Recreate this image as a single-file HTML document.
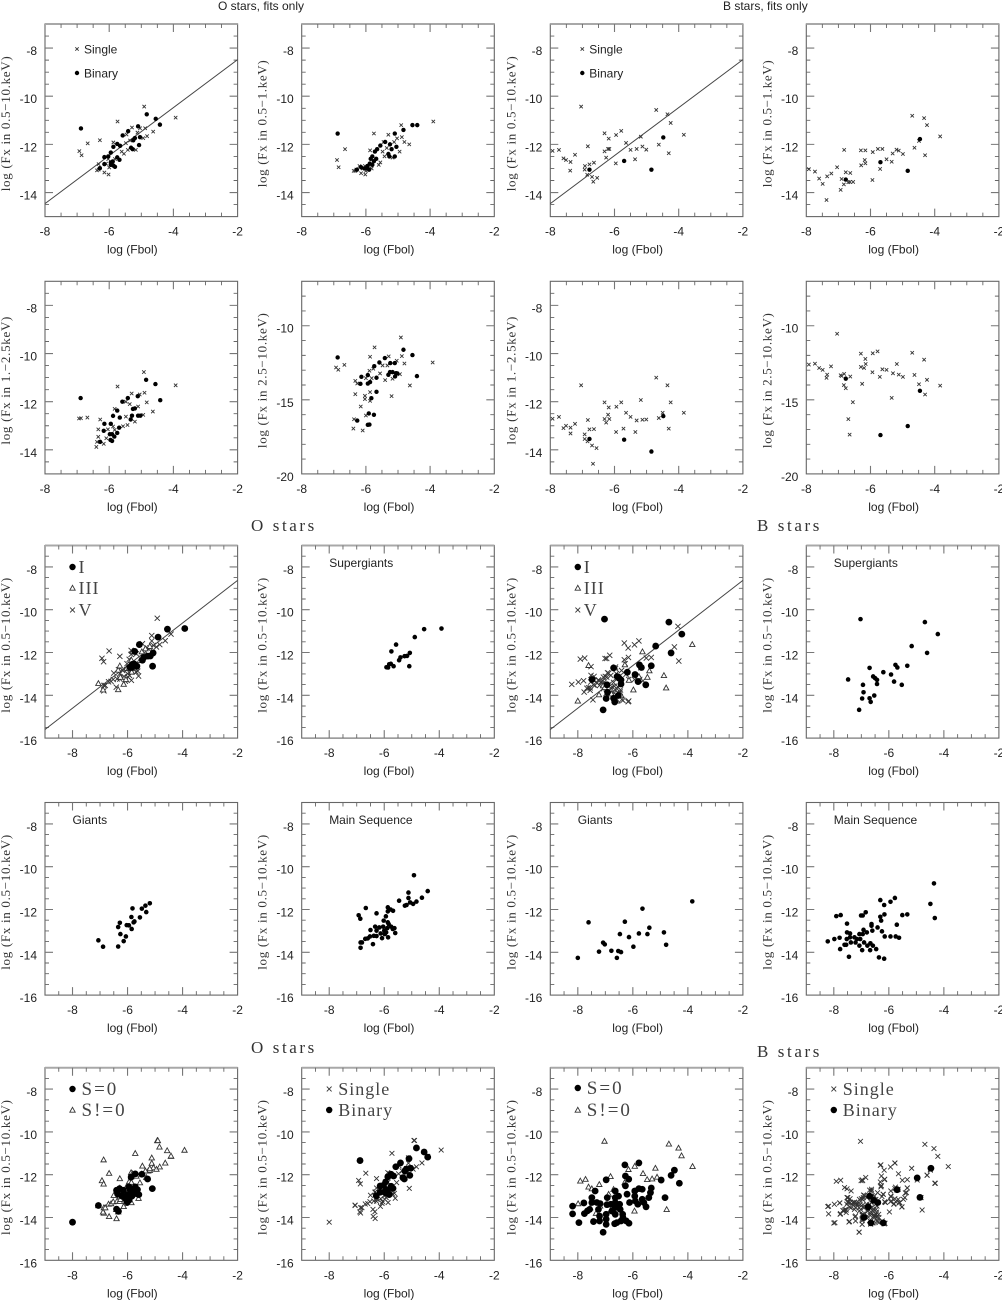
<!DOCTYPE html>
<html lang="en">
<head>
<meta charset="utf-8">
<title>X-ray versus bolometric flux for O and B stars</title>
<style>
html,body{margin:0;padding:0;background:#fff;}
#figure{display:block;width:1002px;height:1300px;}
text{fill:#222;}
.sans{font-family:"Liberation Sans",sans-serif;font-size:12px;}
.heading{font-family:"Liberation Serif",serif;font-size:17px;letter-spacing:2.6px;fill:#333;}
.ytitle{font-family:"Liberation Serif",serif;font-size:13px;fill:#333;}
.legend-serif{font-family:"Liberation Serif",serif;font-size:18px;letter-spacing:1px;fill:#444;}
.legend-flag{font-family:"Liberation Serif",serif;font-size:19px;letter-spacing:2px;fill:#444;}
</style>
</head>
<body>
<svg id="figure" xmlns="http://www.w3.org/2000/svg" width="1002" height="1300" viewBox="0 0 1002 1300">
<text class="sans" x="218" y="10">O stars, fits only</text>
<text class="sans" x="723" y="10">B stars, fits only</text>
<text class="heading" x="251" y="531">O stars</text>
<text class="heading" x="757" y="531">B stars</text>
<text class="heading" x="251" y="1053">O stars</text>
<text class="heading" x="757" y="1057">B stars</text>
</svg>
<script>
// ---------- tick labels ----------
const xTickLabels = ['-8','-6','-4','-2'];
const yTickLabelsFit = ['-8','-10','-12','-14'];
const yTickLabelsHard = ['-10','-15','-20'];
const yTickLabelsAll = ['-8','-10','-12','-14','-16'];

// ---------- fit lines: [log Fbol, log Fx] ----------
const fitLineNarrow = [[-8,-14.46],[-2,-8.48]];
const fitLineWide = [[-9,-15.6],[-2,-8.63]];

// ---------- O stars, fits only ----------
const oBroadBinary = [[-6.88,-11.34],[-6.29,-12.99],[-6.15,-12.53],[-6.15,-12.82],[-6.03,-12.5],[-5.95,-12.34],[-5.87,-12.1],[-5.75,-11.98],[-5.66,-12.06],[-5.58,-11.63],[-5.41,-11.45],[-5.1,-11.25],[-4.83,-10.75],[-4.55,-10.94],[-4.42,-11.18],[-5.2,-11.74],[-5.25,-11.83],[-5.04,-11.7],[-5.07,-12.03],[-5.32,-12.14],[-5.27,-12.2],[-5.75,-12.54],[-5.68,-12.64],[-5.95,-12.75],[-5.89,-12.71],[-5.95,-12.85],[-5.87,-12.88],[-5.82,-12.93]];
const oBroadSingle = [[-6.93,-12.28],[-6.86,-12.45],[-6.67,-11.96],[-6.29,-11.83],[-5.74,-11.05],[-4.91,-10.43],[-3.93,-10.89],[-4.63,-11.47],[-4.82,-11.66],[-4.94,-11.74],[-5.29,-11.3],[-5.46,-11.59],[-4.88,-11.33],[-5.04,-11.33],[-5.12,-11.51],[-5.48,-11.95],[-5.87,-11.92],[-5.35,-11.84],[-5.54,-12.39],[-5.42,-12.23],[-5.17,-12.23],[-6.33,-12.82],[-6.38,-13.08],[-6.33,-13.05],[-6.15,-13.17],[-6.02,-13.25],[-6.1,-12.8],[-6,-12.96],[-5.82,-12.61],[-6.03,-12.61],[-5.61,-12.3]];
const oSoftBinary = [[-6.88,-11.55],[-6.28,-13.05],[-6.15,-12.95],[-6.05,-13],[-5.95,-12.9],[-5.88,-12.8],[-5.85,-12.6],[-5.8,-12.5],[-5.72,-12.3],[-5.65,-12.2],[-5.55,-12.05],[-5.4,-11.9],[-5.1,-11.55],[-4.83,-11.4],[-4.55,-11.2],[-4.4,-11.2],[-5.2,-12.2],[-5.25,-12],[-5.05,-12.1],[-5.1,-12.5],[-5.3,-12.4],[-5.27,-12.5],[-5.75,-12.7],[-5.68,-12.6],[-5.95,-13],[-5.9,-13.05],[-5.8,-12.85]];
const oSoftSingle = [[-6.9,-12.65],[-6.85,-12.95],[-6.65,-12.2],[-6.3,-13.05],[-5.75,-11.55],[-4.9,-11.2],[-3.9,-11.05],[-4.65,-12],[-4.8,-11.9],[-4.95,-12.3],[-5.3,-11.6],[-5.45,-11.9],[-4.88,-11.7],[-5.03,-11.75],[-5.12,-11.9],[-5.48,-12.3],[-5.87,-12.25],[-5.35,-12.15],[-5.55,-12.75],[-5.42,-12.5],[-5.17,-12.55],[-6.33,-13.1],[-6.38,-13.1],[-6.2,-12.9],[-6.15,-13.2],[-6.02,-13.25],[-6.1,-13],[-6,-13.1],[-5.82,-13],[-6.03,-12.9],[-5.6,-12.85]];
const oMidBinary = [[-6.89,-11.85],[-6.28,-13.67],[-6.15,-12.92],[-6.17,-13.21],[-5.95,-12.92],[-5.88,-12.59],[-5.75,-12.37],[-5.67,-12.66],[-5.69,-13.08],[-5.59,-12],[-5.42,-11.85],[-5.11,-11.77],[-4.85,-11.09],[-4.56,-11.27],[-4.41,-11.94],[-5.2,-12.28],[-5.26,-12.3],[-5.29,-12.58],[-5.33,-12.74],[-5.1,-12.58],[-5.03,-12.58],[-5.75,-13.3],[-5.84,-13.45],[-5.98,-13.35],[-5.91,-13.35],[-5.96,-13.59],[-5.91,-13.63]];
const oMidSingle = [[-6.94,-12.7],[-6.88,-12.69],[-6.68,-12.66],[-6.28,-12.74],[-5.74,-11.37],[-4.92,-10.77],[-3.93,-11.32],[-4.64,-12.41],[-4.83,-12.03],[-4.9,-11.63],[-5.3,-11.66],[-5.48,-12],[-5.36,-12.1],[-5.1,-12.2],[-5.05,-11.7],[-5.83,-12.3],[-5.48,-12.62],[-5.43,-12.97],[-5.57,-13.02],[-5.2,-12.83],[-4.94,-12.55],[-6.34,-13.15],[-6.34,-13.46],[-6.4,-13.88],[-6.38,-13.67],[-6.17,-13.75],[-6.09,-13.52],[-6.04,-13.15],[-5.88,-13.03],[-5.83,-13.17]];
const oHardBinary = [[-6.88,-12.14],[-6.27,-16.4],[-6.14,-13.45],[-6.17,-13.92],[-5.94,-13.33],[-5.94,-13.9],[-5.87,-13.8],[-5.74,-12.73],[-5.67,-13.51],[-5.67,-14.46],[-5.83,-14.89],[-5.91,-15.92],[-5.75,-16.01],[-5.94,-16.69],[-5.89,-16.67],[-5.58,-12.48],[-5.41,-12.18],[-5.24,-12.52],[-5.1,-12.52],[-4.83,-11.62],[-4.55,-11.98],[-4.41,-13.4],[-5.3,-13.31],[-5.25,-13.13],[-5.17,-13.13],[-5.06,-13.2],[-5.09,-13.42],[-5.02,-13.22]];
const oHardSingle = [[-6.93,-12.82],[-6.86,-12.97],[-6.67,-12.64],[-5.73,-11.46],[-4.91,-10.79],[-3.92,-12.48],[-4.63,-14.03],[-4.8,-12.55],[-4.88,-12.05],[-5.29,-12.07],[-5.87,-12.09],[-5.48,-12.68],[-5.33,-12.68],[-5.04,-12.36],[-5.56,-13.22],[-4.94,-13.27],[-5.4,-13.67],[-5.17,-13.58],[-5.2,-14.75],[-6.33,-13.72],[-6.27,-13.9],[-6.33,-14.62],[-6.16,-15.45],[-6.37,-16.31],[-6.39,-16.94],[-6.1,-17.07],[-6,-16.06],[-6.03,-14.73],[-6.03,-14.95],[-5.87,-14.48],[-5.87,-15.07],[-6,-13.54],[-5.89,-13.04],[-5.82,-13.54],[-5.77,-12.9]];

// ---------- B stars, fits only ----------
const bBroadBinary = [[-6.78,-13.05],[-5.7,-12.69],[-4.85,-13.05],[-4.48,-11.71]];
const bBroadSingle = [[-7.93,-12.27],[-7.73,-12.23],[-7.59,-12.58],[-7.51,-12.65],[-7.37,-12.73],[-7.23,-12.43],[-7.38,-13.09],[-7.04,-10.43],[-6.83,-12.08],[-6.92,-12.9],[-6.93,-13.05],[-6.78,-12.83],[-6.85,-13.26],[-6.7,-13.35],[-6.66,-13.55],[-6.54,-13.39],[-6.64,-12.76],[-6.31,-11.54],[-6.31,-12.29],[-6.26,-12.55],[-6.18,-11.76],[-6.2,-12.19],[-6.16,-12.19],[-5.95,-11.61],[-5.96,-12.79],[-5.79,-11.44],[-5.64,-11.94],[-5.5,-12.23],[-5.36,-12.62],[-5.31,-12.19],[-5.18,-11.68],[-5.13,-12.09],[-5.01,-12.22],[-4.7,-10.57],[-4.62,-12.01],[-4.35,-10.75],[-4.31,-12.37],[-4.25,-11.11],[-3.84,-11.6]];
const bSoftBinary = [[-6.77,-13.46],[-5.69,-12.74],[-4.84,-13.1],[-4.46,-11.78]];
const bSoftSingle = [[-7.92,-13.03],[-7.73,-13.13],[-7.6,-13.42],[-7.49,-13.64],[-7.37,-14.31],[-7.35,-13.33],[-7.22,-13.21],[-7.04,-12.95],[-6.93,-13.89],[-6.9,-13.44],[-6.83,-13.66],[-6.82,-12.23],[-6.77,-13.16],[-6.69,-13.57],[-6.63,-13.19],[-6.64,-13.56],[-6.54,-13.56],[-6.3,-12.25],[-6.29,-12.87],[-6.18,-12.65],[-6.16,-12.25],[-6.16,-12.79],[-5.93,-12.32],[-5.94,-13.48],[-5.77,-12.19],[-5.7,-13.02],[-5.63,-12.19],[-5.5,-12.62],[-5.34,-12.72],[-5.31,-12.38],[-5.19,-12.22],[-5.12,-12.26],[-4.99,-12.4],[-4.7,-10.81],[-4.63,-12.14],[-4.49,-11.86],[-4.33,-10.91],[-4.3,-12.45],[-4.24,-11.2],[-3.83,-11.67]];
const bMidBinary = [[-6.78,-13.55],[-5.7,-13.58],[-4.85,-14.07],[-4.48,-12.6]];
const bMidSingle = [[-7.93,-12.71],[-7.73,-12.63],[-7.59,-13.1],[-7.51,-13],[-7.37,-13.08],[-7.37,-13.32],[-7.23,-12.92],[-7.04,-11.32],[-6.93,-13.36],[-6.93,-13.55],[-6.84,-13.65],[-6.83,-12.76],[-6.78,-13.15],[-6.7,-13.82],[-6.64,-13.14],[-6.67,-14.58],[-6.56,-13.93],[-6.31,-12.03],[-6.31,-12.72],[-6.26,-12.87],[-6.2,-12.54],[-6.18,-12.24],[-6.16,-12.72],[-5.95,-13.26],[-5.94,-12.21],[-5.79,-12.03],[-5.72,-13.12],[-5.64,-12.46],[-5.5,-12.63],[-5.35,-13.26],[-5.31,-12.78],[-5.18,-11.93],[-5.13,-12.75],[-5.01,-12.74],[-4.7,-11],[-4.62,-12.68],[-4.5,-12.46],[-4.35,-11.32],[-4.31,-13.12],[-4.25,-12.03],[-3.84,-12.46]];
const bHardBinary = [[-6.77,-13.57],[-5.69,-17.38],[-4.84,-16.77],[-4.46,-14.39]];
const bHardSingle = [[-7.92,-12.62],[-7.73,-12.56],[-7.6,-12.85],[-7.49,-12.98],[-7.35,-13.3],[-7.37,-13.52],[-7.23,-12.74],[-7.04,-10.54],[-6.93,-13.34],[-6.9,-13.39],[-6.82,-13.25],[-6.83,-14.01],[-6.77,-14.22],[-6.63,-13.43],[-6.69,-16.3],[-6.65,-17.35],[-6.55,-15.16],[-6.3,-11.88],[-6.3,-12.78],[-6.26,-13.92],[-6.2,-12.85],[-6.16,-12.24],[-6.15,-12.58],[-5.94,-13.14],[-5.93,-11.86],[-5.78,-11.73],[-5.71,-13.45],[-5.63,-12.94],[-5.5,-12.98],[-5.34,-14.87],[-5.3,-13.21],[-5.18,-12.58],[-5.12,-13.3],[-4.99,-13.45],[-4.7,-11.82],[-4.63,-13.32],[-4.49,-13.95],[-4.33,-12.29],[-4.3,-14.64],[-4.24,-13.65],[-3.83,-14.04]];

// ---------- luminosity classes ----------
const oSupergiants = [[-5.92,-12.69],[-5.86,-12.7],[-5.82,-12.55],[-5.76,-12.53],[-5.66,-12.64],[-5.74,-11.95],[-5.57,-11.63],[-5.46,-12.36],[-5.41,-12.23],[-5.26,-12.17],[-5.17,-12.16],[-5.07,-12.02],[-5.09,-12.64],[-4.89,-11.28],[-4.55,-10.91],[-3.92,-10.88]];
const oGiants = [[-7.06,-13.44],[-6.89,-13.74],[-6.34,-13.73],[-6.34,-12.82],[-6.28,-12.62],[-6.26,-13.15],[-6.14,-13.48],[-6.06,-13.26],[-6.03,-12.73],[-5.95,-12.74],[-5.86,-12.35],[-5.82,-11.95],[-5.85,-12.91],[-5.78,-12.6],[-5.75,-12.56],[-5.55,-12.37],[-5.48,-11.96],[-5.35,-11.82],[-5.32,-12.12],[-5.19,-11.71]];
const oMainSequence = [[-6.93,-12.27],[-6.87,-12.43],[-6.67,-11.93],[-6.86,-13.54],[-6.81,-13.54],[-6.86,-13.79],[-6.69,-13.37],[-6.6,-13.35],[-6.5,-12.96],[-6.52,-13.26],[-6.41,-13.62],[-6.38,-13.23],[-6.33,-12.8],[-6.28,-12.18],[-6.28,-12.99],[-6.28,-13.24],[-6.18,-12.84],[-6.13,-13.12],[-6.08,-13.34],[-6.04,-12.8],[-6.02,-12.52],[-5.94,-12.32],[-6,-12.99],[-5.98,-13.15],[-5.86,-13.3],[-5.87,-12.6],[-5.89,-12.87],[-5.87,-11.9],[-5.87,-12.09],[-5.77,-12],[-5.68,-12.06],[-5.84,-12.68],[-5.93,-13.07],[-5.75,-12.8],[-5.69,-12.91],[-5.63,-12.87],[-5.6,-13.1],[-5.46,-11.59],[-5.25,-11.82],[-5.19,-11.79],[-5.12,-11.21],[-5.12,-11.46],[-5.06,-11.67],[-4.95,-11.74],[-4.92,-10.4],[-4.83,-11.63],[-4.63,-11.45],[-4.42,-11.14]];
const bSupergiants = [[-7.03,-10.44],[-4.69,-10.58],[-4.22,-11.14],[-5.17,-11.7],[-4.61,-12.02],[-6.7,-12.72],[-6.2,-12.92],[-5.92,-13.03],[-5.76,-12.58],[-5.69,-12.7],[-5.33,-12.62],[-5.81,-13.36],[-5.53,-13.51],[-7.48,-13.26],[-6.94,-13.51],[-6.92,-13.86],[-6.97,-14.15],[-7.08,-14.68],[-6.7,-14.14],[-6.66,-14.31],[-6.53,-14.01],[-6.57,-13.12],[-6.5,-13.2],[-6.43,-13.28],[-6.43,-13.47]];
const bGiants = [[-8,-14.26],[-7.61,-12.6],[-7.23,-13.97],[-7.08,-13.55],[-7.02,-13.63],[-6.78,-13.93],[-6.58,-14.26],[-6.53,-13.94],[-6.43,-13.99],[-6.47,-13.15],[-6.29,-12.57],[-6.14,-13.29],[-5.98,-13.74],[-5.78,-13.12],[-5.65,-11.96],[-5.47,-13.15],[-5.4,-12.85],[-4.87,-13.07],[-4.79,-13.65],[-3.84,-11.62]];
const bMainSequence = [[-8.22,-13.49],[-7.98,-13.38],[-7.79,-13.32],[-7.91,-12.31],[-7.75,-12.26],[-7.77,-13.85],[-7.61,-13.65],[-7.55,-13.65],[-7.45,-14.21],[-7.52,-12.66],[-7.52,-13.07],[-7.53,-13.38],[-7.41,-13.12],[-7.41,-13.3],[-7.38,-13.54],[-7.25,-13.3],[-7.21,-13.54],[-7.16,-13.38],[-7.07,-13.15],[-7.07,-13.69],[-7.01,-12.28],[-6.95,-12.28],[-6.97,-13.9],[-7.04,-13.38],[-6.95,-13.15],[-6.92,-12.95],[-6.9,-13.54],[-6.84,-12.13],[-6.8,-13.07],[-6.78,-13.69],[-6.67,-13.58],[-6.63,-12.68],[-6.63,-12.76],[-6.6,-12.99],[-6.68,-13.9],[-6.58,-13.69],[-6.46,-13.85],[-6.41,-12.84],[-6.36,-14.24],[-6.31,-11.56],[-6.31,-12.34],[-6.28,-12.52],[-6.25,-13.02],[-6.17,-14.3],[-6.17,-11.79],[-6.16,-12.23],[-6.15,-13.26],[-5.94,-11.64],[-5.94,-13.26],[-5.78,-11.46],[-5.75,-13.26],[-5.71,-12.71],[-5.63,-13.32],[-5.51,-12.26],[-5.33,-12.23],[-4.49,-11.74],[-4.36,-10.78],[-4.33,-12.4]];
const bClassVExtra = [[-7.43,-13.51],[-7.3,-13.43],[-7.12,-13.36],[-7,-13.12],[-6.88,-12.97],[-6.76,-13.6],[-6.64,-13.75],[-6.52,-13.9],[-6.4,-14.2],[-6.15,-14.27],[-7.67,-13.67],[-7.55,-13.77],[-7.25,-13.28],[-6.7,-13.4],[-6.55,-13.6],[-6.45,-13.75]];

// ---------- spectrum flag and binary samples ----------
const oSpectrumZero = [[-8,-14.22],[-7.06,-13.44],[-6.4,-13.61],[-6.33,-13.71],[-6.4,-12.73],[-6.29,-12.65],[-6.36,-12.9],[-6.01,-12.96],[-6.07,-13.11],[-5.95,-13.2],[-6.01,-13.28],[-5.84,-13],[-5.95,-12.57],[-5.87,-12.11],[-5.72,-11.96],[-5.72,-12.57],[-5.64,-12.7],[-5.77,-12.8],[-5.64,-12.9],[-5.59,-12.93],[-5.48,-11.98],[-5.27,-12.2],[-5.1,-12.65],[-6.15,-12.73],[-5.9,-12.73],[-6.2,-13]];
const oSpectrumOtherExtra = [[-3.93,-10.85],[-4.56,-10.87],[-4.42,-11.12],[-4.9,-10.4],[-4.84,-10.7],[-5.72,-11],[-6.87,-11.3],[-6.4,-14.05],[-6.67,-13.95]];
const oSpectrumOther = oMainSequence.concat(oGiants, oSpectrumOtherExtra);
const oAllSingleExtra = [[-8,-14.22],[-7.06,-13.42],[-6.4,-13.95],[-6.33,-14.05],[-5.09,-12.64],[-3.93,-10.85],[-4.9,-10.4],[-5.72,-11]];
const oAllSingle = oMainSequence.concat(oGiants, oAllSingleExtra);
const bSpectrumOther = [[-7.03,-10.43],[-4.69,-10.56],[-4.34,-10.75],[-4.23,-11.11],[-3.83,-11.61],[-5.18,-11.69],[-6.16,-11.75],[-5.93,-11.6],[-5.63,-11.94],[-5.48,-12.22],[-5.3,-12.19],[-5.12,-12.11],[-6.81,-12.08],[-7.22,-12.45],[-7.91,-12.29],[-7.72,-12.21],[-7.61,-12.57],[-7.49,-12.65],[-7.99,-13.35],[-7.55,-13.54],[-7.34,-13.8],[-5.94,-13.69],[-4.77,-13.62],[-6.3,-12.37],[-6.88,-12.91],[-6.7,-12.68],[-6.82,-13.69],[-7.19,-13.46]];
const bSpectrumZero = [[-8.19,-13.47],[-8.19,-13.83],[-7.96,-14.24],[-7.78,-13.32],[-7.76,-13.82],[-7.65,-13.69],[-7.57,-13.62],[-7.37,-12.76],[-7.49,-13.07],[-7.49,-13.3],[-7.43,-14.19],[-7.31,-13.3],[-7.21,-14.16],[-7.21,-13.93],[-7.19,-13.35],[-7.25,-13.62],[-6.97,-12.24],[-6.93,-13.07],[-6.94,-13.4],[-6.97,-13.85],[-6.97,-14.08],[-6.97,-14.32],[-7.08,-14.69],[-6.8,-13.38],[-6.76,-13.7],[-6.64,-12.76],[-6.64,-13.07],[-6.64,-13.3],[-6.64,-13.54],[-6.64,-13.85],[-6.66,-14.29],[-6.52,-13],[-6.48,-13.38],[-6.46,-13.62],[-6.43,-14.16],[-6.58,-14.24],[-6.37,-13.85],[-6.36,-14],[-6.29,-11.54],[-6.24,-14.16],[-6.27,-12.06],[-6.15,-12.21],[-6.27,-12.52],[-6.21,-12.91],[-6.14,-14.27],[-6.12,-13.3],[-5.93,-12.76],[-5.93,-13],[-5.91,-13.23],[-5.82,-13.38],[-5.78,-12.65],[-5.78,-11.45],[-5.66,-12.68],[-5.66,-13.15],[-5.6,-13.3],[-5.52,-13.5],[-5.36,-12.84],[-5.33,-12.62],[-5.42,-13.07],[-4.97,-12.25],[-4.83,-13.07],[-4.61,-12.03],[-4.49,-11.79],[-4.31,-12.4]];
const bAllBinary = [[-4.47,-11.7],[-4.97,-12.15],[-4.87,-13.06],[-5.7,-12.7],[-6.2,-14.25],[-6.65,-14.25],[-6.75,-13.5],[-6.9,-14],[-6.4,-13.3],[-6.55,-13.2],[-6.7,-13]];
const bAllSingle = bMainSequence.concat(bGiants, bSupergiants, bSpectrumZero, bClassVExtra);
const bClassV = bMainSequence.concat(bClassVExtra);

// ---------- layout ----------
const SVG_NS = 'http://www.w3.org/2000/svg';
const figure = document.getElementById('figure');
const colLeft = [45, 301.7, 550.3, 806.3];
const rowTop = [24, 281.3, 545.5, 802.5, 1067.7];
const panelW = 192.6;
const panelH = 192.6;

function svgEl(tag, attrs, parent) {
  const el = document.createElementNS(SVG_NS, tag);
  for (const k in attrs) el.setAttribute(k, attrs[k]);
  parent.appendChild(el);
  return el;
}

function drawMarker(parent, kind, px, py, size) {
  let el;
  if (kind === 'dot') {
    el = svgEl('circle', {cx: px, cy: py, r: size, fill: '#000'}, parent);
  } else if (kind === 'x') {
    el = svgEl('path', {d: `M${px-size} ${py-size}L${px+size} ${py+size}M${px-size} ${py+size}L${px+size} ${py-size}`, stroke: '#333', 'stroke-width': 0.9, fill: 'none'}, parent);
  } else {
    el = svgEl('path', {d: `M${px} ${py-size}L${px+size} ${py+size*0.8}L${px-size} ${py+size*0.8}Z`, stroke: '#333', 'stroke-width': 0.9, fill: '#fff'}, parent);
  }
  
  
}

function drawPanel(cfg) {
  const left = colLeft[cfg.col], top = rowTop[cfg.row];
  const g = svgEl('g', {}, figure);
  
  

  const xScale = v => left + (v - cfg.xRange[0]) / (cfg.xRange[1] - cfg.xRange[0]) * panelW;
  const yScale = v => top + (cfg.yRange[1] - v) / (cfg.yRange[1] - cfg.yRange[0]) * panelH;

  // frame
  const frame = svgEl('rect', {x: left, y: top, width: panelW, height: panelH, fill: 'none', stroke: '#666', 'stroke-width': 1.1}, g);
  
  
  if (cfg.row % 2 === 0) {
    const topEdge = svgEl('line', {x1: left, y1: top, x2: left + panelW, y2: top, stroke: '#a8a8a8', 'stroke-width': 2}, g);
    
    
  }

  // ticks
  let tickPath = '', majorPath = '';
  for (let v = cfg.xRange[0] + 0.5; v < cfg.xRange[1]; v += 0.5) {
    const px = xScale(v), major = Number.isInteger(v) && v % 2 === 0;
    const len = major ? 8 : 4;
    const seg = `M${px} ${top}v${len}M${px} ${top + panelH}v${-len}`;
    if (major) majorPath += seg; else tickPath += seg;
  }
  for (let v = cfg.yRange[0] + cfg.yMinor; v < cfg.yRange[1]; v += cfg.yMinor) {
    const py = yScale(v), major = Number.isInteger(v) && v % cfg.yMajor === 0;
    const len = major ? 8 : 4;
    const seg = `M${left} ${py}h${len}M${left + panelW} ${py}h${-len}`;
    if (major) majorPath += seg; else tickPath += seg;
  }
  const minorTicks = svgEl('path', {d: tickPath, stroke: '#666', 'stroke-width': 0.9, fill: 'none'}, g);
  
  
  const majorTicks = svgEl('path', {d: majorPath, stroke: '#777', 'stroke-width': 1.1, fill: 'none'}, g);
  
  

  // tick labels
  xTickLabels.forEach(label => {
    const t = svgEl('text', {x: xScale(parseFloat(label)), y: top + panelH + 19, 'text-anchor': 'middle', class: 'sans'}, g);
    t.textContent = label;
    
    
  });
  cfg.yLabels.forEach(label => {
    const t = svgEl('text', {x: left - 8, y: yScale(parseFloat(label)) + 7, 'text-anchor': 'end', class: 'sans'}, g);
    t.textContent = label;
    
    
  });

  // axis titles
  const xt = svgEl('text', {x: left + panelW / 2 - 9, y: top + panelH + 37, 'text-anchor': 'middle', class: 'sans'}, g);
  xt.textContent = 'log (Fbol)';
  
  
  const ybx = left - 35, yby = top + panelH / 2 + cfg.yTitleShift;
  const yt = svgEl('text', {x: 0, y: 0, 'text-anchor': 'middle', class: 'ytitle', textLength: cfg.yTitleLen, lengthAdjust: 'spacing', transform: `translate(${ybx} ${yby}) rotate(-90)`}, g);
  yt.textContent = cfg.yTitle;
  
  

  // fit line
  if (cfg.fit) {
    const line = svgEl('line', {x1: xScale(cfg.fit[0][0]), y1: yScale(cfg.fit[0][1]), x2: xScale(cfg.fit[1][0]), y2: yScale(cfg.fit[1][1]), stroke: '#444', 'stroke-width': 1}, g);
    
    
  }

  // series
  cfg.series.forEach(s => {
    const sg = svgEl('g', {}, g);
    
    
    s.points.forEach(p => drawMarker(sg, s.kind, xScale(p[0]), yScale(p[1]), s.size));
  });

  // legend
  if (cfg.legend) {
    cfg.legend.items.forEach(item => {
      const lg = svgEl('g', {}, g);
      
      
      drawMarker(lg, item.kind, left + cfg.legend.dx, item.y, item.size);
      const t = svgEl('text', {x: left + cfg.legend.dx + cfg.legend.gap, y: item.y + cfg.legend.base, class: cfg.legend.cls}, lg);
      t.textContent = item.label;
    });
  }
  if (cfg.label) {
    const t = svgEl('text', {x: left + cfg.labelDx, y: top + cfg.labelDy, class: 'sans'}, g);
    t.textContent = cfg.label;
    
    
  }
}

const narrowX = [-8, -2], wideX = [-9, -2];
const narrowY = {yRange: [-15, -7], yMinor: 0.5, yMajor: 2, yLabels: yTickLabelsFit};
const hardY = {yRange: [-20, -7], yMinor: 1, yMajor: 5, yLabels: yTickLabelsHard};
const wideY = {yRange: [-16, -7], yMinor: 0.5, yMajor: 2, yLabels: yTickLabelsAll};
const title05to10 = {yTitle: 'log (Fx in 0.5\u221210.keV)', yTitleLen: 135, yTitleShift: 3.5};
const title05to1 = {yTitle: 'log (Fx in 0.5\u22121.keV)', yTitleLen: 127, yTitleShift: 3.5};
const title1to25 = {yTitle: 'log (Fx in 1.\u22122.5keV)', yTitleLen: 128, yTitleShift: 3};
const title25to10 = {yTitle: 'log (Fx in 2.5\u221210.keV)', yTitleLen: 135, yTitleShift: 3};

function fitSeries(single, binary) {
  return [
    {name: 'single-stars', kind: 'x', size: 1.7, points: single},
    {name: 'binary-stars', kind: 'dot', size: 2.2, points: binary}
  ];
}
function smallLegend() {
  return {dx: 32, gap: 7, base: 4.5, cls: 'sans', items: [
    {kind: 'x', size: 1.7, y: 49, label: 'Single'},
    {kind: 'dot', size: 2.2, y: 73, label: 'Binary'}
  ]};
}
function classSeries(main, giants, supers) {
  return [
    {name: 'class-v-stars', kind: 'x', size: 2.6, points: main},
    {name: 'class-iii-stars', kind: 'tri', size: 2.7, points: giants},
    {name: 'class-i-stars', kind: 'dot', size: 3.4, points: supers}
  ];
}
function classLegend() {
  return {dx: 27.5, gap: 6, base: 6, cls: 'legend-serif', items: [
    {kind: 'dot', size: 3.2, y: 567, label: 'I'},
    {kind: 'tri', size: 2.7, y: 588, label: 'III'},
    {kind: 'x', size: 2.4, y: 610, label: 'V'}
  ]};
}
function flagLegend(y1, y2) {
  return {dx: 27.5, gap: 9, base: 6, cls: 'legend-flag', items: [
    {kind: 'dot', size: 3.2, y: y1, label: 'S=0'},
    {kind: 'tri', size: 2.7, y: y2, label: 'S!=0'}
  ]};
}
function binaryLegend() {
  return {dx: 27.5, gap: 9, base: 6, cls: 'legend-serif', items: [
    {kind: 'x', size: 2.4, y: 1089, label: 'Single'},
    {kind: 'dot', size: 3.2, y: 1110, label: 'Binary'}
  ]};
}
function dots(name, points) {
  return [{name: name, kind: 'dot', size: 2.3, points: points}];
}

const panels = [
  Object.assign({name:'o-fits-0-5-10-panel', col:0, row:0, xRange:narrowX, fit:fitLineNarrow, series:fitSeries(oBroadSingle,oBroadBinary), legend:smallLegend()}, narrowY, title05to10),
  Object.assign({name:'o-fits-0-5-1-panel', col:1, row:0, xRange:narrowX, series:fitSeries(oSoftSingle,oSoftBinary)}, narrowY, title05to1),
  Object.assign({name:'b-fits-0-5-10-panel', col:2, row:0, xRange:narrowX, fit:fitLineNarrow, series:fitSeries(bBroadSingle,bBroadBinary), legend:smallLegend()}, narrowY, title05to10),
  Object.assign({name:'b-fits-0-5-1-panel', col:3, row:0, xRange:narrowX, series:fitSeries(bSoftSingle,bSoftBinary)}, narrowY, title05to1),
  Object.assign({name:'o-fits-1-2-5-panel', col:0, row:1, xRange:narrowX, series:fitSeries(oMidSingle,oMidBinary)}, narrowY, title1to25),
  Object.assign({name:'o-fits-2-5-10-panel', col:1, row:1, xRange:narrowX, series:fitSeries(oHardSingle,oHardBinary)}, hardY, title25to10),
  Object.assign({name:'b-fits-1-2-5-panel', col:2, row:1, xRange:narrowX, series:fitSeries(bMidSingle,bMidBinary)}, narrowY, title1to25),
  Object.assign({name:'b-fits-2-5-10-panel', col:3, row:1, xRange:narrowX, series:fitSeries(bHardSingle,bHardBinary)}, hardY, title25to10),

  Object.assign({name:'o-all-classes-panel', col:0, row:2, xRange:wideX, fit:fitLineWide, series:classSeries(oMainSequence,oGiants,oSupergiants), legend:classLegend()}, wideY, title05to10),
  Object.assign({name:'o-supergiants-panel', col:1, row:2, xRange:wideX, series:dots('supergiant-stars',oSupergiants), label:'Supergiants', labelDx:27.5, labelDy:21.5}, wideY, title05to10),
  Object.assign({name:'b-all-classes-panel', col:2, row:2, xRange:wideX, fit:fitLineWide, series:classSeries(bClassV,bGiants,bSupergiants), legend:classLegend()}, wideY, title05to10),
  Object.assign({name:'b-supergiants-panel', col:3, row:2, xRange:wideX, series:dots('supergiant-stars',bSupergiants), label:'Supergiants', labelDx:27.5, labelDy:21.5}, wideY, title05to10),

  Object.assign({name:'o-giants-panel', col:0, row:3, xRange:wideX, series:dots('giant-stars',oGiants), label:'Giants', labelDx:27.5, labelDy:21.5}, wideY, title05to10),
  Object.assign({name:'o-main-sequence-panel', col:1, row:3, xRange:wideX, series:dots('main-sequence-stars',oMainSequence), label:'Main Sequence', labelDx:27.5, labelDy:21.5}, wideY, title05to10),
  Object.assign({name:'b-giants-panel', col:2, row:3, xRange:wideX, series:dots('giant-stars',bGiants), label:'Giants', labelDx:27.5, labelDy:21.5}, wideY, title05to10),
  Object.assign({name:'b-main-sequence-panel', col:3, row:3, xRange:wideX, series:dots('main-sequence-stars',bMainSequence), label:'Main Sequence', labelDx:27.5, labelDy:21.5}, wideY, title05to10),

  Object.assign({name:'o-spectrum-flag-panel', col:0, row:4, xRange:wideX, series:[{name:'s-nonzero-stars',kind:'tri',size:2.7,points:oSpectrumOther},{name:'s-zero-stars',kind:'dot',size:3.4,points:oSpectrumZero}], legend:flagLegend(1089,1110)}, wideY, title05to10),
  Object.assign({name:'o-binary-panel', col:1, row:4, xRange:wideX, series:[{name:'single-stars',kind:'x',size:2.4,points:oAllSingle},{name:'binary-stars',kind:'dot',size:3.4,points:oBroadBinary}], legend:binaryLegend()}, wideY, title05to10),
  Object.assign({name:'b-spectrum-flag-panel', col:2, row:4, xRange:wideX, series:[{name:'s-nonzero-stars',kind:'tri',size:2.7,points:bSpectrumOther},{name:'s-zero-stars',kind:'dot',size:3.4,points:bSpectrumZero}], legend:flagLegend(1088,1110)}, wideY, title05to10),
  Object.assign({name:'b-binary-panel', col:3, row:4, xRange:wideX, series:[{name:'single-stars',kind:'x',size:2.4,points:bAllSingle},{name:'binary-stars',kind:'dot',size:3.4,points:bAllBinary}], legend:binaryLegend()}, wideY, title05to10)
];

panels.forEach(drawPanel);
</script>
</body>
</html>
